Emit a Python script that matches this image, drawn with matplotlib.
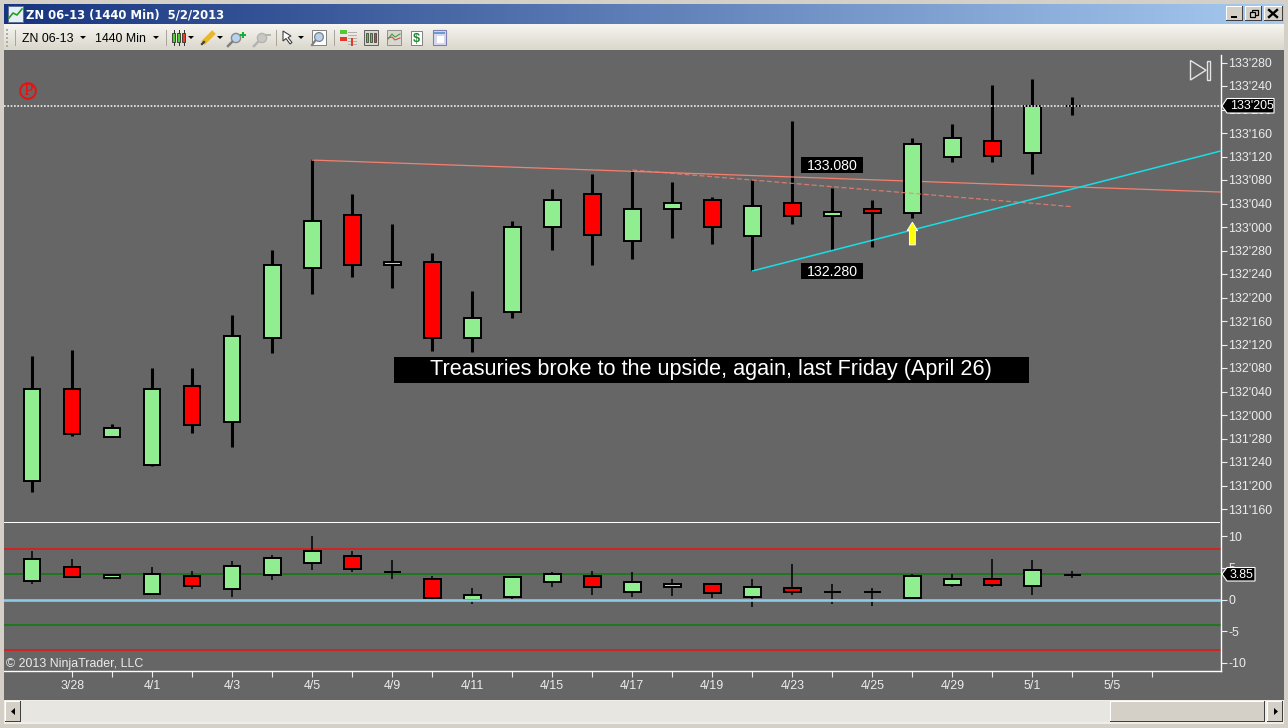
import numpy as np
import matplotlib
matplotlib.use("Agg")
import matplotlib.pyplot as plt
from matplotlib.patches import Rectangle, Polygon, Circle

# =====================================================================
# DATA
# =====================================================================

date_labels = ["3/28", "", "4/1", "", "4/3", "", "4/5", "", "4/9", "", "4/11", "", "4/15", "",
               "4/17", "", "4/19", "", "4/23", "", "4/25", "", "4/29", "", "5/1", "", "5/5", ""]

# main pane, daily bars
price_open = [131.649, 132.138, 131.883, 131.734, 132.154, 131.963, 132.410, 132.782, 133.064,
              132.798, 132.814, 132.410, 132.548, 133.000, 133.176, 132.926, 133.096, 133.144,
              132.952, 133.128, 133.059, 133.096, 133.075, 133.375, 133.457, 133.394, 133.641]
price_high = [132.314, 132.346, 131.952, 132.250, 132.250, 132.532, 132.878, 133.362, 133.176,
              133.016, 132.862, 132.660, 133.032, 133.202, 133.282, 133.303, 133.239, 133.160,
              133.250, 133.564, 133.207, 133.144, 133.473, 133.548, 133.755, 133.787, 133.691]
price_low = [131.590, 131.888, 131.883, 131.729, 131.904, 131.830, 132.330, 132.644, 132.734,
             132.676, 132.340, 132.335, 132.516, 132.878, 132.798, 132.830, 132.942, 132.910,
             132.766, 133.016, 132.878, 132.894, 133.048, 133.346, 133.346, 133.282, 133.596]
price_close = [132.138, 131.899, 131.931, 132.138, 131.947, 132.420, 132.798, 133.032, 132.798,
               132.814, 132.410, 132.516, 133.000, 133.144, 132.957, 133.096, 133.128, 133.000,
               133.112, 133.059, 133.080, 133.075, 133.441, 133.473, 133.378, 133.644, 133.641]

# lower pane, bars of the indicator
ind_open = [3.00, 5.10, 3.46, 0.84, 3.68, 1.63, 3.84, 5.73, 6.84, 4.36, 3.20, -0.06, 0.46, 2.83,
            3.68, 1.25, 2.04, 2.42, 0.46, 1.78, 1.20, 1.20, 0.30, 2.36, 3.20, 2.10, 3.85]
ind_high = [7.68, 6.41, 4.00, 5.15, 4.52, 6.10, 7.05, 10.05, 7.68, 6.26, 3.73, 1.83, 3.73, 4.36,
            4.52, 4.36, 3.25, 2.62, 3.25, 5.62, 2.46, 1.83, 4.00, 4.00, 6.41, 6.26, 4.47]
ind_low = [2.46, 3.46, 3.46, 0.84, 1.72, 0.46, 3.10, 4.68, 4.41, 3.25, -0.17, -0.70, 0.14, 2.00,
           0.73, 0.41, 0.57, 0.20, -1.17, 0.73, -0.70, -0.96, 0.10, 2.00, 2.00, 0.73, 3.46]
ind_close = [6.37, 3.52, 3.84, 4.09, 2.10, 5.26, 6.52, 7.63, 4.79, 4.36, 0.20, 0.68, 3.52, 4.00,
             2.04, 2.73, 2.42, 1.09, 1.94, 1.25, 1.20, 1.20, 3.68, 3.20, 2.36, 4.63, 3.85]

last_price = 133.641
last_ind = 3.85
ind_red_levels = [8, -8]
ind_green_levels = [4, -4]

# drawn objects: bar index and price of the end points
solid_trend_x = [7, 29.7]
solid_trend_y = [133.356, 133.186]
dashed_trend_x = [15, 26]
dashed_trend_y = [133.303, 133.108]
up_trend_x = [18, 29.7]
up_trend_y = [132.766, 133.404]
arrow_x = 22
arrow_y = [132.905, 133.025]
high_label = "133.080"
low_label = "132.280"
note_text = "Treasuries broke to the upside, again, last Friday (April 26)"

# =====================================================================
# LAYOUT
# =====================================================================

W, H = 1288, 728
PANE = "#666666"
TXT = "#ececec"
FRAME = "#d4d0c8"
FONT = ["Liberation Sans", "DejaVu Sans"]

plt.rcParams["font.family"] = FONT


def pane_axes(x0, y0, x1, y1):
    ax = fig.add_axes([x0 / W, 1 - y1 / H, (x1 - x0) / W, (y1 - y0) / H])
    ax.set_facecolor(PANE)
    for name in ["top", "left", "bottom"]:
        ax.spines[name].set_visible(False)
    ax.spines["right"].set_color("white")
    ax.spines["right"].set_linewidth(1.0)
    ax.yaxis.tick_right()
    ax.tick_params(axis="y", colors=TXT, length=4.5, width=0.8, pad=1.0, labelsize=8.9)
    ax.set_xlim(-0.7, 29.7)
    return ax


def price_label(p):
    whole = int(p)
    return f"{whole}'{round((p - whole) * 320):03d}"


def draw_bars(ax, o, h, l, c, wick_w, edge_w):
    x = np.arange(len(o))
    o, h, l, c = map(np.array, (o, h, l, c))
    colors = ["#90ee90" if b >= a else "#ff0000" for a, b in zip(o, c)]
    ax.vlines(x, l, h, color="black", linewidth=wick_w, zorder=2)
    ax.bar(x, c - o, bottom=o, width=0.42, color=colors, edgecolor="black",
           linewidth=edge_w, zorder=3)


fig = plt.figure(figsize=(W / 100, H / 100), dpi=100, facecolor=PANE)

# =====================================================================
# MAIN PANE
# =====================================================================

px_per_point = 23.5 / 0.125
ax = pane_axes(4, 51, 1220.5, 522)
ax.set_ylim(133.875 - (522 - 62.5) / px_per_point, 133.875 + (62.5 - 51) / px_per_point)
ax.set_xticks([])
price_ticks = [131.5 + 0.125 * i for i in range(20)]
ax.set_yticks(price_ticks)
ax.set_yticklabels([price_label(p) for p in price_ticks])
ax.spines["right"].set_bounds(ax.get_ylim()[0], 133.875 + 7.5 / px_per_point)

ax.plot(solid_trend_x, solid_trend_y, color="#f4806f", linewidth=0.9, zorder=2.5)
draw_bars(ax, price_open, price_high, price_low, price_close, 2.2, 1.4)
ax.plot(dashed_trend_x, dashed_trend_y, color="#f4806f", linewidth=0.9, alpha=0.8,
        linestyle=(0, (4, 2)), zorder=4)
ax.plot(up_trend_x, up_trend_y, color="#17dfe6", linewidth=1.1, zorder=5)
ax.axhline(last_price, color="#f0f0f0", linewidth=1.2, linestyle=(0, (1, 1)), zorder=6)
ax.annotate("", xy=(arrow_x, arrow_y[1]), xytext=(arrow_x, arrow_y[0]), zorder=7,
            arrowprops=dict(arrowstyle="simple,head_width=0.75,head_length=0.6,tail_width=0.42",
                            facecolor="#ffff00", edgecolor="white", linewidth=0.7,
                            shrinkA=0, shrinkB=0))

# =====================================================================
# LOWER PANE
# =====================================================================

px_per_unit = 6.33
ax2 = pane_axes(4, 523, 1220.5, 671)
ax2.set_ylim(-(671 - 599.6) / px_per_unit, (599.6 - 523) / px_per_unit)
ax2.set_yticks([10, 5, 0, -5, -10])
ax2.set_yticklabels(["10", "5", "0", "-5", "-10"])
ax2.spines["bottom"].set_visible(True)
ax2.spines["bottom"].set_color("white")
ax2.spines["bottom"].set_linewidth(1.0)
ax2.set_xticks(np.arange(1, 29))
ax2.set_xticklabels(date_labels)
ax2.tick_params(axis="x", colors=TXT, length=4.5, width=0.8, pad=2, labelsize=8.9)

for level in ind_red_levels:
    ax2.axhline(level, color="#f01010", linewidth=1.1, zorder=1)
for level in ind_green_levels:
    ax2.axhline(level, color="#0b7d0b", linewidth=1.1, zorder=1)
draw_bars(ax2, ind_open, ind_high, ind_low, ind_close, 1.1, 1.4)
ax2.axhline(0, color="#8ccbe8", linewidth=1.9, zorder=5)

# =====================================================================
# WINDOW AROUND THE CHART, drawn in pixel coordinates
# =====================================================================

top = fig.add_axes([0, 0, 1, 1], facecolor="none", zorder=10)
top.set_xlim(0, W)
top.set_ylim(H, 0)
top.axis("off")


def box(x0, y0, x1, y1, color, edge="none", lw=0.0, z=1):
    top.add_patch(Rectangle((x0, y0), x1 - x0, y1 - y0, facecolor=color, edgecolor=edge,
                            linewidth=lw, zorder=z))


def gradient(x0, y0, x1, y1, c0, c1, horizontal=True):
    a, b = np.array(matplotlib.colors.to_rgb(c0)), np.array(matplotlib.colors.to_rgb(c1))
    t = np.linspace(0, 1, 256)[None, :, None] if horizontal else np.linspace(0, 1, 64)[:, None, None]
    top.imshow(a + (b - a) * t, extent=(x0, x1, y1, y0), aspect="auto", zorder=0.5)


def button(x0, y0, x1, y1):
    box(x0, y0, x1, y1, "#404040", z=2)
    box(x0, y0, x1 - 1, y1 - 1, "white", z=2.1)
    box(x0 + 1, y0 + 1, x1 - 1, y1 - 1, FRAME, z=2.2)


def chrome_text(x, y, s, **kw):
    top.text(x, y, s, va="center", zorder=6, **kw)


box(0, 0, W, 4, FRAME)
box(0, 0, 4, H, FRAME)
box(W - 4, 0, W, H, FRAME)
box(0, H - 4, W, H, FRAME)
gradient(4, 4, W - 4, 24, "#17357f", "#a6caf0")
gradient(4, 24, W - 4, 50, "#f6f5f0", "#dad7cc", horizontal=False)
top.set_xlim(0, W)
top.set_ylim(H, 0)

# title bar
box(8, 6, 23, 22, "#e8eef8", edge="#5c6f96", lw=0.7, z=3)
top.plot([9, 13, 17, 22], [18, 13, 15, 9], color="#20a020", linewidth=1.2, zorder=4)
chrome_text(26, 14.5, "ZN 06-13 (1440 Min)  5/2/2013", color="white", fontweight="bold",
            fontsize=8.34, family="DejaVu Sans")
for bx0, bx1, kind in [(1226, 1243, "min"), (1245, 1262, "max"), (1264, 1283, "close")]:
    button(bx0, 6, bx1, 21)
box(1231, 16, 1237, 18, "black", z=4)
box(1252, 9.5, 1258, 14.5, "none", edge="black", lw=0.9, z=4)
box(1250, 12, 1255.5, 17, FRAME, edge="black", lw=0.9, z=4.1)
top.plot([1269, 1277], [10, 17], color="black", linewidth=1.7, zorder=4)
top.plot([1269, 1277], [17, 10], color="black", linewidth=1.7, zorder=4)

# toolbar
for gy in [29, 33, 37, 41, 45]:
    box(6, gy, 8, gy + 2, "#b0aea4", z=3)
for sx in [15, 166, 276, 334]:
    box(sx, 30, sx + 1, 46, "#a9a79c", z=3)
chrome_text(22, 38.5, "ZN 06-13", color="black", fontsize=8.9)
chrome_text(95, 38.5, "1440 Min", color="black", fontsize=8.9)
for tx in [83, 156, 191, 220, 301]:
    top.add_patch(Polygon([(tx - 3, 36), (tx + 3, 36), (tx, 39)], facecolor="black", zorder=4))

# toolbar icons, bar type
for ix, col in [(174, "#4ccf2a"), (179, "#4ccf2a"), (184, "#e8402a")]:
    box(ix - 1.5, 33, ix + 1.5, 42, col, edge="#303030", lw=0.6, z=4)
    top.plot([ix, ix], [30, 45], color="#303030", linewidth=0.7, zorder=3.5)
# pencil
top.plot([203, 214], [43, 32], color="#e8b82a", linewidth=3.6, solid_capstyle="butt", zorder=4)
top.plot([202, 204], [44, 42], color="#404040", linewidth=1.6, zorder=5)
# zoom in and out
top.add_patch(Circle((236, 38), 4.6, facecolor="#b6d2ee", edgecolor="#8a8a8a", linewidth=1.0, zorder=4))
top.plot([232, 228], [42, 46], color="#808080", linewidth=1.8, zorder=4)
box(240, 33.5, 246, 35.5, "#10b030", z=4)
box(242, 31.5, 244, 37.5, "#10b030", z=4)
top.add_patch(Circle((262, 38), 4.6, facecolor="#c8c8c4", edgecolor="#b4b4b0", linewidth=1.0, zorder=4))
top.plot([258, 254], [42, 46], color="#b4b4b0", linewidth=1.8, zorder=4)
box(265, 33.5, 271, 35.5, "#b4b4b0", z=4)
# cursor and find
top.add_patch(Polygon([(283, 31), (283, 41), (286, 38.5), (290, 44), (292, 42.5), (288, 37.5), (291, 36)],
                      facecolor="white", edgecolor="#404040", linewidth=0.8, zorder=4))
box(312, 30, 326, 45, "white", edge="#808080", lw=0.7, z=3)
top.add_patch(Circle((319, 37), 4.4, facecolor="#b6d2ee", edgecolor="#808080", linewidth=0.9, zorder=4))
top.plot([315, 312], [41, 45], color="#808080", linewidth=1.6, zorder=4)
# panel icons
box(340, 30, 347, 34, "#54c832", z=4)
box(340, 37, 347, 41, "#e03a2a", z=4)
box(351, 38, 353, 46, "#e03a2a", z=4)
for ly in [32, 35, 38, 41, 44]:
    top.plot([348, 356], [ly, ly], color="#b0b0a8", linewidth=0.7, zorder=3.5)
box(364, 30, 378, 45, "#d8d8d0", edge="#606060", lw=0.7, z=3)
for ix, col in [(367, "#4ccf2a"), (371, "#4ccf2a"), (375, "#e8402a")]:
    box(ix - 1.2, 33, ix + 1.2, 42, col, edge="#303030", lw=0.5, z=4)
box(387, 30, 401, 45, "#d8d8d0", edge="#909090", lw=0.7, z=3)
top.plot([388, 392, 395, 400], [39, 34, 37, 34], color="#40a040", linewidth=0.8, zorder=4)
top.plot([388, 392, 395, 400], [38, 37, 40, 38], color="#d05050", linewidth=0.8, zorder=4)
box(411, 31, 422, 45, "white", edge="#808080", lw=0.7, z=3)
chrome_text(412.5, 38.5, "$", color="#1a8a2a", fontsize=9, fontweight="bold")
box(433, 30, 446, 45, "#d8d8f0", edge="#8080b0", lw=0.8, z=3)
box(434, 31.5, 445, 34, "#6a9ad0", z=4)
box(437, 36, 444, 43, "white", z=4)

# scrollbar
box(4, 700, W - 4, 724, "#f0eee8")
box(21, 701, 1110, 722, "#e8e6e0", z=1.5)
button(5, 701, 21, 722)
button(1110, 701, 1265, 722)
button(1267, 701, 1283, 722)
top.add_patch(Polygon([(15, 708), (15, 715), (11, 711.5)], facecolor="black", zorder=4))
top.add_patch(Polygon([(1274, 708), (1274, 715), (1278, 711.5)], facecolor="black", zorder=4))

# =====================================================================
# LABELS ON TOP OF THE PANES
# =====================================================================

box(4, 522, 1220, 523, "white", z=3)

# price tags
top.add_patch(Polygon([(1222, 106), (1227, 98.5), (1274, 98.5), (1274, 113), (1227, 113)],
                      facecolor="black", edgecolor="white", linewidth=0.8, zorder=5))
chrome_text(1230, 106, price_label(last_price), color="white", fontsize=8.9)
top.add_patch(Polygon([(1222, 574), (1227, 567.5), (1255, 567.5), (1255, 581), (1227, 581)],
                      facecolor="black", edgecolor="white", linewidth=0.8, zorder=5))
chrome_text(1230, 574.5, f"{last_ind:.2f}", color="white", fontsize=8.9)

# text boxes
box(801, 157, 863, 173, "black", z=5)
chrome_text(832, 166, high_label, color="white", fontsize=10.2, ha="center")
box(801, 263, 863, 279, "black", z=5)
chrome_text(832, 272, low_label, color="white", fontsize=10.2, ha="center")
box(394, 357, 1029, 383, "black", z=5)
chrome_text(430, 369.5, note_text, color="white", fontsize=15.55)

# P marker and go-to-end icon
top.add_patch(Circle((28, 91), 7.8, facecolor="none", edgecolor="#e81010", linewidth=1.4, zorder=5))
chrome_text(28, 91, "P", color="#e81010", fontsize=12.5, ha="center", family="Liberation Serif")
top.add_patch(Polygon([(1190.5, 60.5), (1190.5, 80), (1206, 70.2)], facecolor="none",
                      edgecolor="#e4e4e4", linewidth=1.0, zorder=5))
box(1207.5, 60.5, 1210.5, 80, "none", edge="#e4e4e4", lw=1.0, z=5)

chrome_text(6, 664, "© 2013 NinjaTrader, LLC", color=TXT, fontsize=8.9)

fig.savefig("out.png", dpi=100, facecolor=PANE)
